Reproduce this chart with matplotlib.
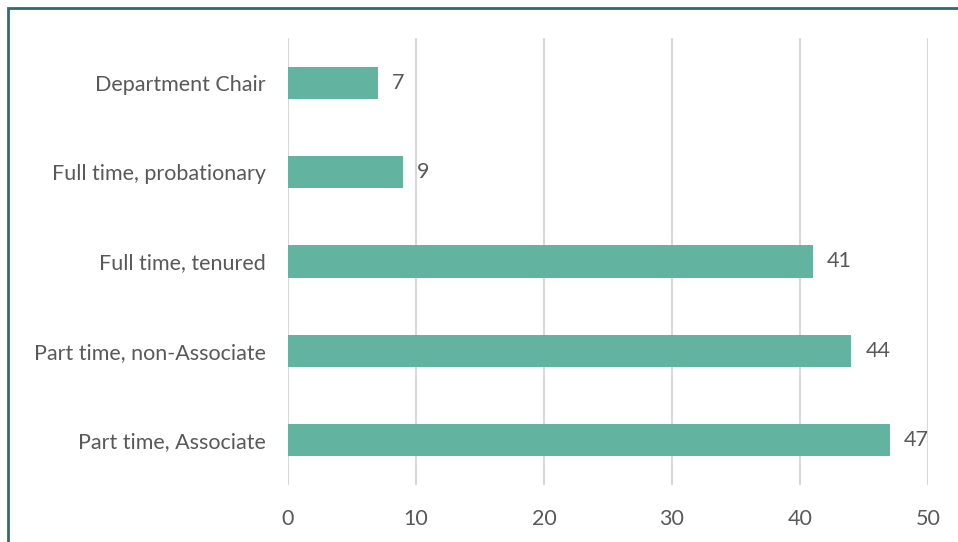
import matplotlib
matplotlib.use('Agg')
from matplotlib import pyplot as plt
from matplotlib.patches import Rectangle

# faculty roles, listed bottom to top
roles = ['Part time, Associate', 'Part time, non-Associate', 'Full time, tenured',
         'Full time, probationary', 'Department Chair']
counts = [47, 44, 41, 9, 7]
xticks = [0, 10, 20, 30, 40, 50]

plt.rcParams['font.family'] = ['Lato', 'DejaVu Sans']
text_color = '#595959'
fs = 15.5

fig = plt.figure(figsize=(9.58, 5.42), dpi=100)
ax = fig.add_axes([288 / 958, 1 - 485 / 542, 640 / 958, 447 / 542])

pos = range(len(roles))
ax.barh(pos, counts, height=0.36, color='#62B4A0', zorder=3)
for y, v in zip(pos, counts):
    ax.text(v + 1.1, y, str(v), va='center', ha='left', fontsize=fs, color=text_color)

ax.set_xlim(0, 50)
ax.set_ylim(-0.5, len(roles) - 0.5)
ax.set_xticks(xticks)
ax.set_yticks(list(pos))
ax.set_yticklabels(roles)
ax.xaxis.grid(True, color='#D9D9D9', linewidth=1.5, zorder=0)
ax.tick_params(axis='both', length=0, labelsize=fs, labelcolor=text_color)
ax.tick_params(axis='y', pad=16)
ax.tick_params(axis='x', pad=17)
for s in ax.spines.values():
    s.set_visible(False)

# outer frame, running off the right and bottom edges
fig.patches.append(Rectangle((8 / 958, -0.1), 1.2, 1 - 8 / 542 + 0.1,
                             transform=fig.transFigure, fill=False,
                             edgecolor='#2E6B73', linewidth=2))

fig.savefig('out.png', dpi=100)
